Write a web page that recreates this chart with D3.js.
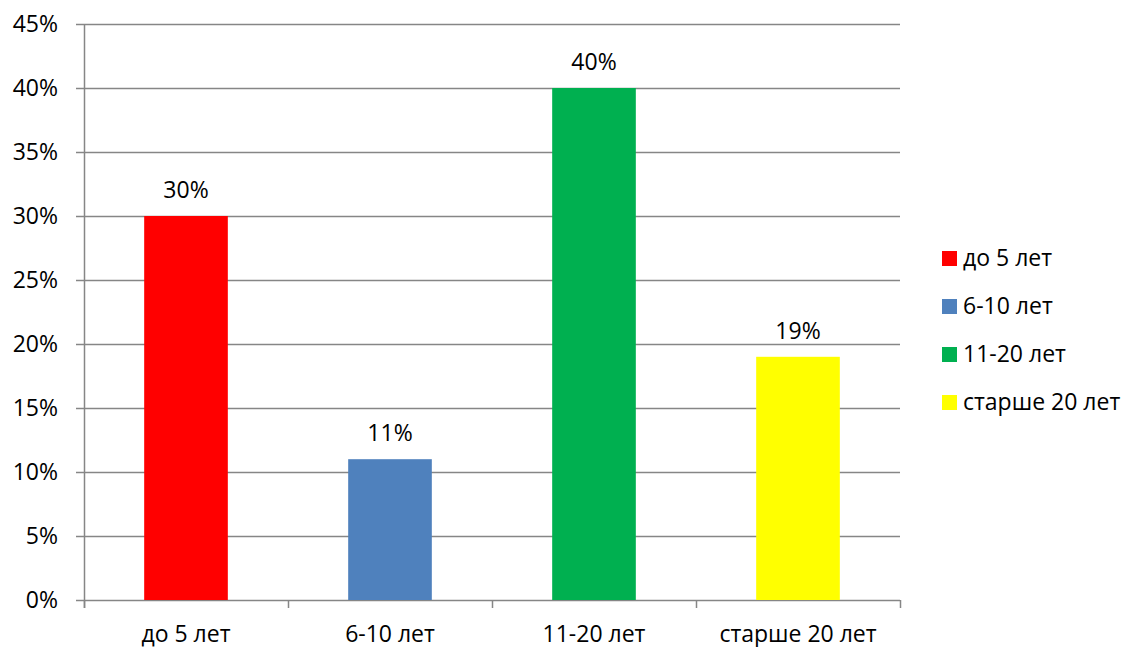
<!DOCTYPE html>
<html>
<head>
<meta charset="utf-8">
<script src="https://d3js.org/d3.v7.min.js"></script>
<style>
  body { margin: 0; background: #fff; }
  text { font-family: "Open Sans", "Noto Sans", sans-serif; fill: #000; }
</style>
</head>
<body>
<div id="chart"></div>
<script>
var categories = ["до 5 лет", "6-10 лет", "11-20 лет", "старше 20 лет"];
var values = [0.30, 0.11, 0.40, 0.19];
var colors = ["#ff0000", "#4f81bd", "#00b050", "#ffff00"];
var yTicks = [0, 0.05, 0.10, 0.15, 0.20, 0.25, 0.30, 0.35, 0.40, 0.45];

var width = 1123, height = 647;
var margin = { left: 84, right: 223, top: 24, bottom: 47 };
var fontSize = "23px";

var svg = d3.select("#chart").append("svg")
  .attr("width", width)
  .attr("height", height);

var x = d3.scaleBand()
  .domain(categories)
  .range([margin.left, width - margin.right])
  .paddingInner(0.59)
  .paddingOuter(0.295);

var y = d3.scaleLinear()
  .domain([0, 0.45])
  .range([height - margin.bottom, margin.top]);

var fmt = d3.format(".0%");

// gridlines
svg.append("g")
  .selectAll("line")
  .data(yTicks)
  .enter()
  .append("line")
  .attr("x1", margin.left - 8)
  .attr("x2", width - margin.right)
  .attr("y1", function(d) { return Math.round(y(d)) + 0.5; })
  .attr("y2", function(d) { return Math.round(y(d)) + 0.5; })
  .attr("stroke", "#868686")
  .attr("stroke-width", 1.5);

// y labels
svg.append("g")
  .selectAll("text")
  .data(yTicks)
  .enter()
  .append("text")
  .attr("x", margin.left - 26)
  .attr("y", function(d) { return y(d); })
  .attr("dy", "0.35em")
  .attr("text-anchor", "end")
  .style("font-size", fontSize)
  .text(fmt);

// bars
svg.append("g")
  .selectAll("rect")
  .data(values)
  .enter()
  .append("rect")
  .attr("x", function(d, i) { return x(categories[i]); })
  .attr("y", function(d) { return y(d); })
  .attr("width", x.bandwidth())
  .attr("height", function(d) { return y(0) - y(d); })
  .attr("fill", function(d, i) { return colors[i]; });

// data labels
svg.append("g")
  .selectAll("text")
  .data(values)
  .enter()
  .append("text")
  .attr("x", function(d, i) { return x(categories[i]) + x.bandwidth() / 2; })
  .attr("y", function(d) { return y(d) - 18; })
  .attr("text-anchor", "middle")
  .style("font-size", fontSize)
  .text(fmt);

// y axis line
svg.append("line")
  .attr("x1", margin.left + 0.5).attr("x2", margin.left + 0.5)
  .attr("y1", margin.top).attr("y2", y(0) + 8)
  .attr("stroke", "#868686").attr("stroke-width", 1.5);

// x axis ticks between categories
var xTickPos = d3.range(categories.length + 1).map(function(i) {
  return margin.left + i * (width - margin.right - margin.left) / categories.length;
});
svg.append("g")
  .selectAll("line")
  .data(xTickPos)
  .enter()
  .append("line")
  .attr("x1", function(d) { return Math.round(d) + 0.5; })
  .attr("x2", function(d) { return Math.round(d) + 0.5; })
  .attr("y1", y(0))
  .attr("y2", y(0) + 8)
  .attr("stroke", "#868686")
  .attr("stroke-width", 1.5);

// x labels
svg.append("g")
  .selectAll("text")
  .data(categories)
  .enter()
  .append("text")
  .attr("x", function(d) { return x(d) + x.bandwidth() / 2; })
  .attr("y", y(0) + 42)
  .attr("text-anchor", "middle")
  .style("font-size", fontSize)
  .text(function(d) { return d; });

// legend
var legend = svg.append("g")
  .attr("transform", "translate(942,258)");

legend.selectAll("rect")
  .data(categories)
  .enter()
  .append("rect")
  .attr("x", 0)
  .attr("y", function(d, i) { return i * 48 - 7; })
  .attr("width", 15)
  .attr("height", 15)
  .attr("fill", function(d, i) { return colors[i]; });

legend.selectAll("text")
  .data(categories)
  .enter()
  .append("text")
  .attr("x", 21)
  .attr("y", function(d, i) { return i * 48; })
  .attr("dy", "0.35em")
  .style("font-size", fontSize)
  .text(function(d) { return d; });
</script>
</body>
</html>
